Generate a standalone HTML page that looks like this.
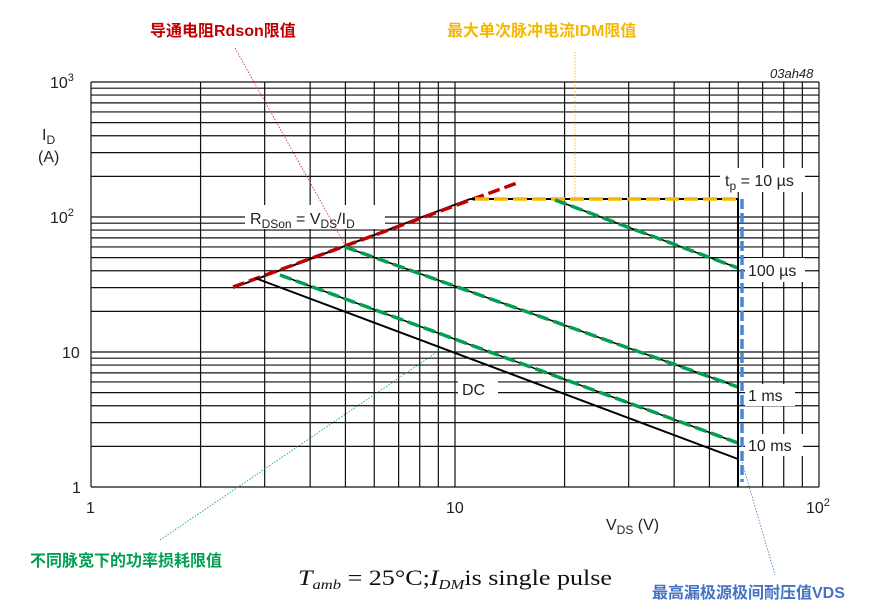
<!DOCTYPE html>
<html><head><meta charset="utf-8"><style>
body{margin:0;background:#fff;width:890px;height:614px;overflow:hidden}
svg{display:block}
text{font-family:"Liberation Sans","Noto Sans CJK SC",sans-serif}
.cn{font-family:"Liberation Sans","Noto Sans CJK SC",sans-serif;font-weight:bold;font-size:16px}
</style></head><body>
<svg id="s" width="890" height="614" xmlns="http://www.w3.org/2000/svg">
<g id="grid" stroke="#111" stroke-width="1.2"></g>
<rect x="245" y="205" width="140" height="24" fill="#fff"/>
<rect x="720" y="168" width="85" height="24" fill="#fff"/>
<rect x="745" y="258" width="60" height="24" fill="#fff"/>
<rect x="745" y="384" width="50" height="22" fill="#fff"/>
<rect x="745" y="434" width="58" height="22" fill="#fff"/>
<rect x="458" y="378" width="40" height="22" fill="#fff"/>
<g fill="none" stroke-width="3.5">
<line x1="233" y1="288" x2="470" y2="199" stroke="#000" stroke-width="2"/>
<line x1="233" y1="287" x2="517" y2="183" stroke="#c00000" stroke-dasharray="12,5"/>
<line x1="470" y1="199" x2="738" y2="199" stroke="#000" stroke-width="2"/>
<line x1="475" y1="199" x2="738" y2="199" stroke="#f5b800" stroke-dasharray="14,5"/>
<line x1="555" y1="200" x2="738" y2="268" stroke="#000" stroke-width="1.5"/>
<line x1="555" y1="200" x2="738" y2="268" stroke="#00a050" stroke-dasharray="12,5"/>
<line x1="345" y1="247" x2="738" y2="387" stroke="#000" stroke-width="1.5"/>
<line x1="345" y1="247" x2="738" y2="387" stroke="#00a050" stroke-dasharray="12,5"/>
<line x1="280" y1="275" x2="738" y2="443" stroke="#000" stroke-width="1.5"/>
<line x1="280" y1="275" x2="738" y2="443" stroke="#00a050" stroke-dasharray="12,5"/>
<line x1="255" y1="278" x2="738" y2="459" stroke="#000" stroke-width="2"/>
<line x1="738" y1="199" x2="738" y2="487" stroke="#000" stroke-width="2"/>
<line x1="742" y1="199" x2="742" y2="482" stroke="#4a86d8" stroke-dasharray="10,4"/>
</g>
<g stroke-width="0.8" stroke-dasharray="1.5,1.5" fill="none">
<line x1="235" y1="48" x2="345" y2="245" stroke="#e02020"/>
<line x1="575" y1="52" x2="575" y2="197" stroke="#f5b800"/>
<line x1="160" y1="540" x2="440" y2="350" stroke="#00a050"/>
<line x1="742" y1="462" x2="775" y2="575" stroke="#4472c4"/>
</g>
<g font-size="16" fill="#222">
<text x="250" y="224">R<tspan font-size="12" dy="4">DSon</tspan><tspan dy="-4"> = V</tspan><tspan font-size="12" dy="4">DS</tspan><tspan dy="-4">/I</tspan><tspan font-size="12" dy="4">D</tspan></text>
<text x="725" y="186">t<tspan font-size="12" dy="4">p</tspan><tspan dy="-4"> = 10 µs</tspan></text>
<text x="748" y="276">100 µs</text>
<text x="748" y="401">1 ms</text>
<text x="748" y="451">10 ms</text>
<text x="462" y="395">DC</text>
<text x="50" y="88">10<tspan font-size="11" dy="-7">3</tspan></text>
<text x="50" y="223">10<tspan font-size="11" dy="-7">2</tspan></text>
<text x="62" y="358">10</text>
<text x="72" y="493">1</text>
<text x="86" y="513">1</text>
<text x="446" y="513">10</text>
<text x="806" y="513">10<tspan font-size="11" dy="-7">2</tspan></text>
<text x="606" y="530">V<tspan font-size="12" dy="4">DS</tspan><tspan dy="-4"> (V)</tspan></text>
<text x="42" y="140">I<tspan font-size="12" dy="4">D</tspan></text>
<text x="38" y="162">(A)</text>
<text x="770" y="78" font-style="italic" font-size="13">03ah48</text>
</g>
<text x="298" y="585" textLength="314" lengthAdjust="spacingAndGlyphs" style="font-family:'Liberation Serif',serif" font-size="22" fill="#111"><tspan font-style="italic">T</tspan><tspan font-style="italic" font-size="14" dy="4">amb</tspan><tspan dy="-4"> = 25°C;</tspan><tspan font-style="italic">I</tspan><tspan font-style="italic" font-size="14" dy="4">DM</tspan><tspan dy="-4">is single pulse</tspan></text>
<text class="cn" x="150" y="36" fill="#c00000">导通电阻Rdson限值</text>
<text class="cn" x="447" y="36" fill="#f5b800">最大单次脉冲电流IDM限值</text>
<text class="cn" x="30" y="566" fill="#00a050">不同脉宽下的功率损耗限值</text>
<text class="cn" x="652" y="598" fill="#4472c4">最高漏极源极间耐压值VDS</text>
</svg>
<script>
var g=document.getElementById('grid'),h='';
var L=91,R=819,T=82,B=487,dx=364,dy=135;
for(var d=0;d<2;d++)for(var k=1;k<10;k++){var x=L+(d+Math.log10(k))*dx;h+='<line x1="'+x+'" y1="'+T+'" x2="'+x+'" y2="'+B+'"/>';}
h+='<line x1="'+R+'" y1="'+T+'" x2="'+R+'" y2="'+B+'"/>';
for(var d=0;d<3;d++)for(var k=1;k<10;k++){var y=B-(d+Math.log10(k))*dy;h+='<line x1="'+L+'" y1="'+y+'" x2="'+R+'" y2="'+y+'"/>';}
h+='<line x1="'+L+'" y1="'+T+'" x2="'+R+'" y2="'+T+'"/>';
g.innerHTML=h;
</script>
</body></html>
